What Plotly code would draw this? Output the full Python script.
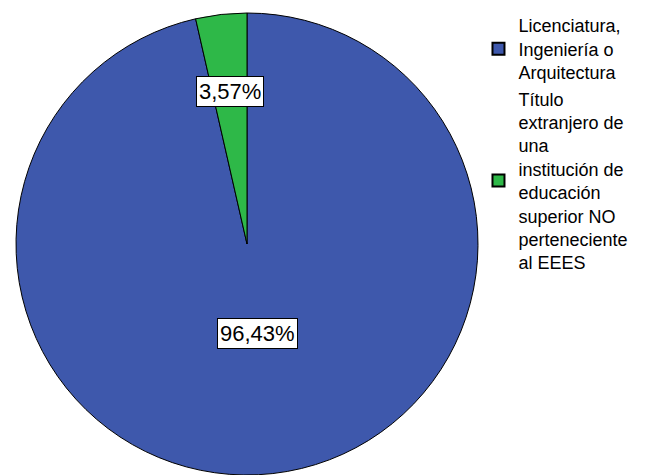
import math
import plotly.graph_objects as go

# ---- data ----
categories = [
    "Licenciatura,<br>Ingeniería o<br>Arquitectura",
    "Título<br>extranjero de<br>una<br>institución de<br>educación<br>superior NO<br>perteneciente<br>al EEES",
]
values = [96.43, 3.57]
value_labels = ["96,43%", "3,57%"]
colors = ["#3E58AC", "#2EB848"]

W, H = 651, 475
dom_x = [15 / W, 479 / W]
dom_y = [0.0, 462 / H]

fig = go.Figure(
    go.Pie(
        labels=categories,
        values=values,
        sort=False,
        direction="clockwise",
        rotation=0,
        marker=dict(colors=colors, line=dict(color="black", width=1)),
        textinfo="none",
        hoverinfo="label+percent",
        domain=dict(x=dom_x, y=dom_y),
    )
)

# label positions derived from slice angles
cx = (dom_x[0] + dom_x[1]) / 2 * W
cy = (dom_y[0] + dom_y[1]) / 2 * H
R = min((dom_x[1] - dom_x[0]) * W, (dom_y[1] - dom_y[0]) * H) / 2
radial_frac = [0.39, 0.665]
total = sum(values)
cum = 0.0
annotations = []
for v, lab, rf in zip(values, value_labels, radial_frac):
    mid = (cum + v / 2) / total * 2 * math.pi
    cum += v
    px = cx + rf * R * math.sin(mid)
    py = cy + rf * R * math.cos(mid)
    annotations.append(
        dict(
            x=px / W, y=py / H, xref="paper", yref="paper",
            text=lab, showarrow=False,
            font=dict(family="Liberation Sans, Arial", size=22, color="black"),
            bgcolor="white", bordercolor="black", borderwidth=1, borderpad=2,
            xanchor="center", yanchor="middle",
        )
    )

fig.update_layout(
    width=W, height=H,
    margin=dict(l=0, r=0, t=0, b=0),
    paper_bgcolor="white",
    plot_bgcolor="white",
    annotations=annotations,
    showlegend=True,
    legend=dict(
        x=0.735, y=0.985, xanchor="left", yanchor="top",
        font=dict(family="Liberation Sans, Arial", size=18, color="black"),
        bgcolor="rgba(0,0,0,0)",
        tracegroupgap=0, itemsizing="constant", valign="middle",
    ),
)

fig.write_html(
    "out.html",
    config={"displayModeBar": False},
    post_script="document.body.style.margin='0';",
)
